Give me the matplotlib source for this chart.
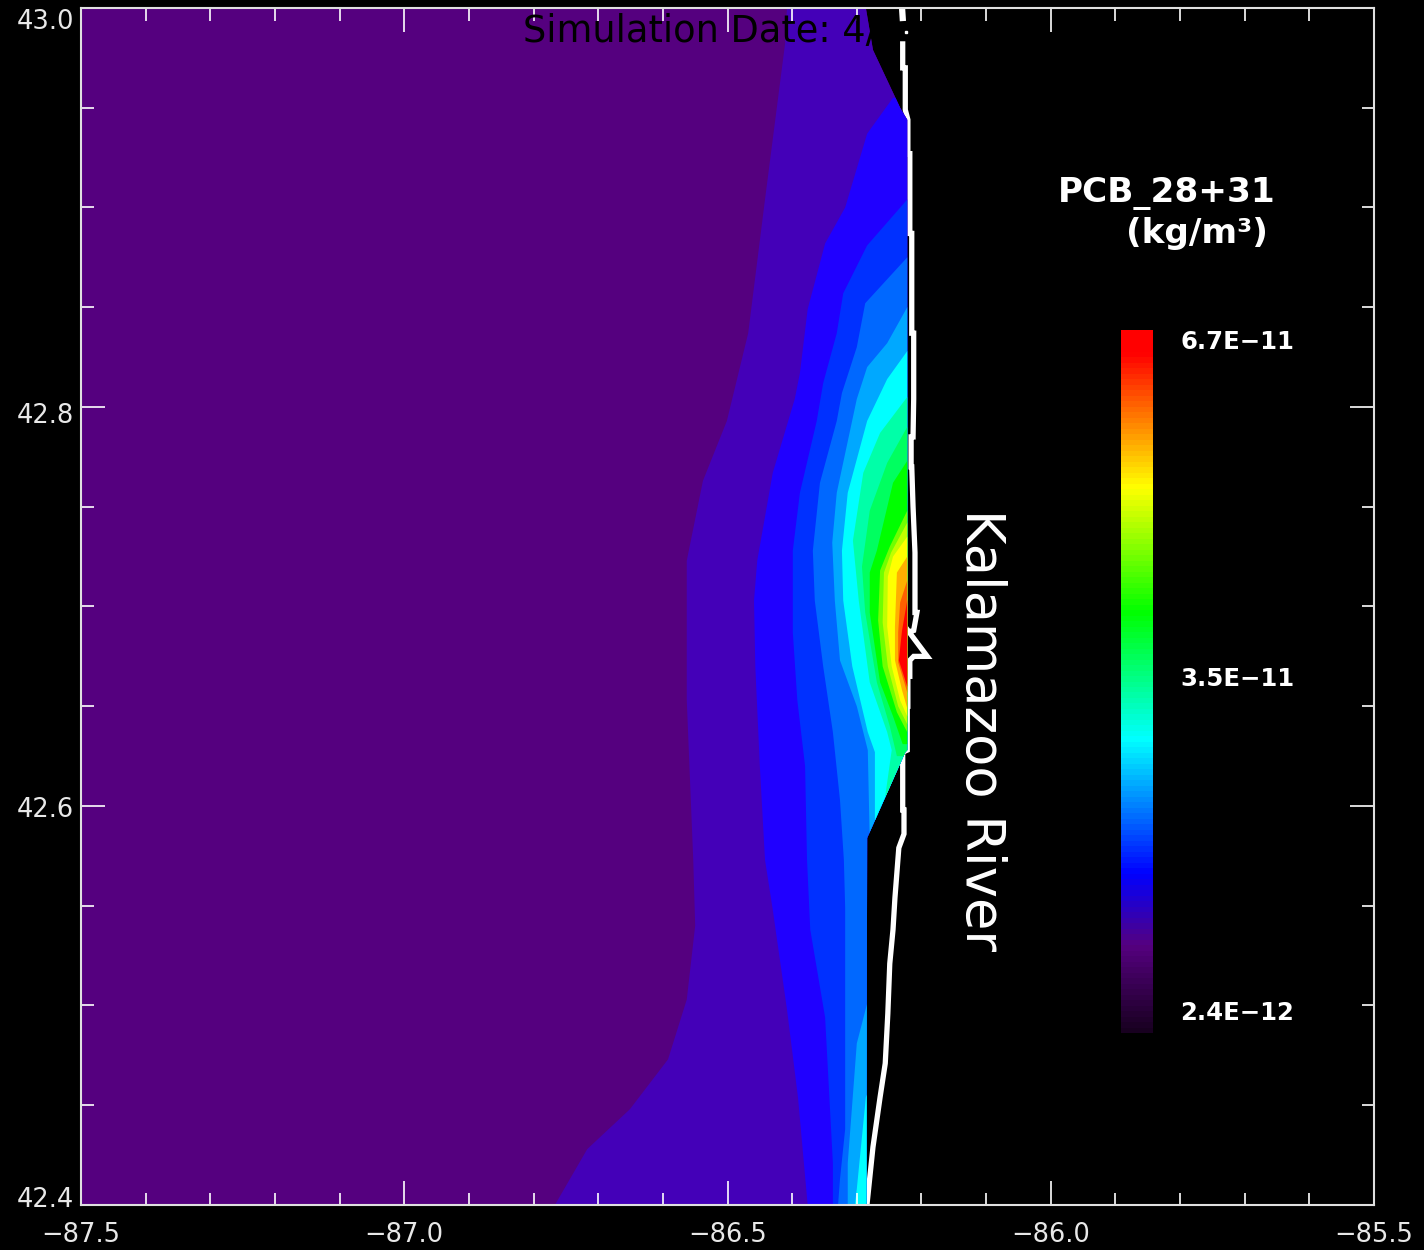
import matplotlib
matplotlib.use("Agg")
import matplotlib.pyplot as plt
from matplotlib.colors import LinearSegmentedColormap, Normalize
from matplotlib.cm import ScalarMappable
from matplotlib.patches import Polygon
from matplotlib.ticker import MultipleLocator
from matplotlib.transforms import ScaledTranslation

# model domain outline (lon, lat)
domain_lon = [-87.5, -87.5, -86.285, -86.284, -86.225, -86.222, -86.222, -86.233, -86.275, -86.286]
domain_lat = [43.0, 42.4, 42.4, 42.584, 42.627, 42.628, 42.944, 42.950, 42.979, 43.0]

# concentration band edges, west to east
indigo_lon = [-86.408, -86.411, -86.442, -86.468, -86.501, -86.538, -86.563, -86.563, -86.553, -86.550, -86.563, -86.592, -86.651, -86.717, -86.767]
indigo_lat = [43.0, 42.982, 42.904, 42.837, 42.793, 42.763, 42.723, 42.653, 42.573, 42.540, 42.503, 42.473, 42.448, 42.428, 42.40]

blue_lon = [-86.244, -86.284, -86.318, -86.349, -86.376, -86.388, -86.396, -86.430, -86.454, -86.459, -86.457, -86.450, -86.442, -86.430, -86.408, -86.391, -86.376]
blue_lat = [42.955, 42.937, 42.900, 42.882, 42.849, 42.817, 42.804, 42.767, 42.723, 42.703, 42.670, 42.620, 42.573, 42.548, 42.498, 42.454, 42.40]

azure1_lon = [-86.222, -86.284, -86.321, -86.331, -86.352, -86.362, -86.388, -86.399, -86.399, -86.392, -86.380, -86.377, -86.372, -86.349, -86.337, -86.337]
azure1_lat = [42.904, 42.881, 42.857, 42.837, 42.812, 42.793, 42.757, 42.728, 42.687, 42.653, 42.620, 42.573, 42.538, 42.494, 42.421, 42.40]

azure2_lon = [-86.222, -86.287, -86.300, -86.323, -86.331, -86.357, -86.368, -86.365, -86.352, -86.337, -86.326, -86.320, -86.318, -86.318, -86.326, -86.329]
azure2_lat = [42.875, 42.852, 42.830, 42.807, 42.793, 42.762, 42.728, 42.703, 42.670, 42.637, 42.603, 42.573, 42.549, 42.438, 42.413, 42.40]

sky_lon = [-86.222, -86.253, -86.284, -86.300, -86.331, -86.338, -86.334, -86.326, -86.300, -86.283, -86.280, -86.280, -86.300, -86.314, -86.314]
sky_lat = [42.850, 42.832, 42.820, 42.804, 42.757, 42.732, 42.703, 42.673, 42.650, 42.628, 42.583, 42.506, 42.481, 42.421, 42.40]

cyan_lon = [-86.222, -86.253, -86.284, -86.314, -86.323, -86.321, -86.307, -86.283, -86.272, -86.272, -86.256, -86.256, -86.286, -86.300, -86.303]
cyan_lat = [42.828, 42.814, 42.793, 42.757, 42.728, 42.703, 42.670, 42.637, 42.627, 42.593, 42.553, 42.478, 42.454, 42.408, 42.40]

spring_lon = [-86.222, -86.264, -86.290, -86.306, -86.297, -86.280, -86.253, -86.246, -86.256]
spring_lat = [42.805, 42.787, 42.767, 42.733, 42.703, 42.662, 42.637, 42.628, 42.605]

mint_lon = [-86.222, -86.253, -86.280, -86.292, -86.287, -86.269, -86.249, -86.238]
mint_lat = [42.790, 42.772, 42.748, 42.720, 42.697, 42.662, 42.640, 42.625]

green_lon = [-86.222, -86.244, -86.269, -86.280, -86.280, -86.264, -86.244, -86.229]
green_lat = [42.773, 42.762, 42.728, 42.717, 42.697, 42.662, 42.645, 42.631]

lime_lon = [-86.222, -86.249, -86.264, -86.267, -86.260, -86.238, -86.222]
lime_lat = [42.748, 42.730, 42.718, 42.693, 42.670, 42.647, 42.637]

chartreuse_lon = [-86.222, -86.247, -86.258, -86.260, -86.252, -86.236, -86.222]
chartreuse_lat = [42.742, 42.727, 42.717, 42.692, 42.670, 42.650, 42.641]

yellow_lon = [-86.222, -86.244, -86.252, -86.253, -86.246, -86.233, -86.222]
yellow_lat = [42.735, 42.725, 42.715, 42.690, 42.670, 42.653, 42.645]

orange_lon = [-86.222, -86.238, -86.241, -86.241, -86.230, -86.222]
orange_lat = [42.725, 42.717, 42.690, 42.673, 42.658, 42.649]

redorange_lon = [-86.222, -86.233, -86.236, -86.236, -86.222]
redorange_lat = [42.713, 42.702, 42.687, 42.672, 42.657]

red_lon = [-86.222, -86.230, -86.235, -86.222]
red_lat = [42.703, 42.688, 42.673, 42.660]

coast_lon = [-86.229, -86.229, -86.225, -86.225, -86.221, -86.221, -86.218, -86.218, -86.215, -86.215, -86.212, -86.212, -86.213, -86.216, -86.216, -86.215, -86.213, -86.210, -86.210, -86.207, -86.212, -86.222, -86.221, -86.191, -86.212, -86.218, -86.218, -86.221, -86.221, -86.222, -86.222, -86.229, -86.229, -86.227, -86.227, -86.235, -86.241, -86.244, -86.249, -86.252, -86.256, -86.264, -86.275, -86.284]
coast_lat = [42.982, 42.970, 42.970, 42.949, 42.944, 42.927, 42.927, 42.887, 42.887, 42.837, 42.837, 42.804, 42.785, 42.785, 42.770, 42.770, 42.750, 42.727, 42.697, 42.697, 42.688, 42.687, 42.688, 42.675, 42.675, 42.673, 42.665, 42.665, 42.650, 42.650, 42.628, 42.627, 42.598, 42.598, 42.586, 42.579, 42.554, 42.538, 42.521, 42.496, 42.471, 42.454, 42.429, 42.401]
coast_cap_lon = [-86.230, -86.229]
coast_cap_lat = [43.0, 42.995]
coast_dot_lon = [-86.224]
coast_dot_lat = [42.988]

band_edges = [
    (indigo_lon, indigo_lat, "#4400b8"),
    (blue_lon, blue_lat, "#2000ff"),
    (azure1_lon, azure1_lat, "#0030ff"),
    (azure2_lon, azure2_lat, "#0068ff"),
    (sky_lon, sky_lat, "#00a8ff"),
    (cyan_lon, cyan_lat, "#00ffff"),
    (spring_lon, spring_lat, "#00ffa8"),
    (mint_lon, mint_lat, "#00ff60"),
    (green_lon, green_lat, "#00ff00"),
    (lime_lon, lime_lat, "#70ff00"),
    (chartreuse_lon, chartreuse_lat, "#c0ff00"),
    (yellow_lon, yellow_lat, "#ffff00"),
    (orange_lon, orange_lat, "#ffb000"),
    (redorange_lon, redorange_lat, "#ff6000"),
    (red_lon, red_lat, "#ff0000"),
]

x_ticks = [-87.5, -87.0, -86.5, -86.0, -85.5]
x_labels = ["\u221287.5", "\u221287.0", "\u221286.5", "\u221286.0", "\u221285.5"]
y_ticks = [42.4, 42.6, 42.8, 43.0]
y_labels = ["42.4", "42.6", "42.8", "43.0"]
y_label_shift = [8, -1, -6, -11]  # pixels, the labels do not sit centred on their ticks

cbar_stops = [0.0, 0.122, 0.225, 0.417, 0.60, 0.778, 0.97, 1.0]
cbar_colors = ["#180020", "#55007f", "#0000ff", "#00ffff", "#00ff00", "#ffff00", "#ff0000", "#ff0000"]
cbar_labels = ["6.7E\u221211", "3.5E\u221211", "2.4E\u221212"]
cbar_label_pos = [0.983, 0.503, 0.029]

W, H = 1424, 1250
fig = plt.figure(figsize=(W / 100, H / 100), dpi=100, facecolor="black")
ax = fig.add_axes([81 / W, (H - 1205) / H, 1293 / W, 1197 / H], facecolor="black")
ax.set_axisbelow(False)

domain = Polygon(list(zip(domain_lon, domain_lat)), closed=True, fc="#55007f", ec="none", zorder=2)
ax.add_patch(domain)
for lon, lat, col in band_edges:
    # everything east of the edge gets this colour, domain outline cuts it off
    pts = list(zip(lon, lat)) + [(-85.4, lat[-1]), (-85.4, lat[0])]
    band = Polygon(pts, closed=True, fc=col, ec="none", zorder=2)
    ax.add_patch(band)
    band.set_clip_path(domain)

# coast goes under the field, the shelf edge stays sharp
ax.plot(coast_lon, coast_lat, color="white", lw=3.8, solid_joinstyle="miter", zorder=1)
ax.plot(coast_cap_lon, coast_cap_lat, color="white", lw=4.5, zorder=1)
ax.plot(coast_dot_lon, coast_dot_lat, "s", color="white", ms=2, zorder=1)
ax.text(-86.816, 42.988, "Simulation Date: 4/", color="black", fontsize=26.5, ha="left", va="center", zorder=3)

ax.set_xlim(-87.5, -85.5)
ax.set_ylim(42.4, 43.0)
ax.set_xticks(x_ticks)
ax.set_xticklabels(x_labels)
ax.set_yticks(y_ticks)
ax.set_yticklabels(y_labels)
ax.xaxis.set_minor_locator(MultipleLocator(0.1))
ax.yaxis.set_minor_locator(MultipleLocator(0.05))
ax.tick_params(which="major", direction="in", length=17, width=1.2, color="white",
               top=True, right=True, labelcolor="#e8e8e8", labelsize=18.5)
ax.tick_params(which="minor", direction="in", length=9, width=1.2, color="white", top=True, right=True)
ax.tick_params(axis="x", which="major", pad=12)
ax.tick_params(axis="y", which="major", pad=5)
for lab, dy in zip(ax.get_yticklabels(), y_label_shift):
    lab.set_transform(lab.get_transform() + ScaledTranslation(0, dy / 100, fig.dpi_scale_trans))
for s in ax.spines.values():
    s.set_color("#e0e0e0")
    s.set_linewidth(1.5)
    s.set_zorder(5)

ax.text(981 / W, 1 - 730 / H, "Kalamazoo River", transform=fig.transFigure, color="white", fontsize=38,
        rotation=-90, ha="center", va="center")
ax.text(1167 / W, 1 - 193 / H, "PCB_28+31", transform=fig.transFigure, color="white", fontsize=24.7,
        fontweight="bold", ha="center", va="center")
ax.text(1197 / W, 1 - 233 / H, "(kg/m\u00b3)", transform=fig.transFigure, color="white", fontsize=24.7,
        fontweight="bold", ha="center", va="center")

cax = fig.add_axes([1121 / W, (H - 1033) / H, 32 / W, 703 / H])
cmap = LinearSegmentedColormap.from_list("pcb", list(zip(cbar_stops, cbar_colors)), N=128)
cbar = fig.colorbar(ScalarMappable(norm=Normalize(0, 1), cmap=cmap), cax=cax)
cbar.set_ticks([])
cbar.outline.set_visible(False)
for txt, pos in zip(cbar_labels, cbar_label_pos):
    cax.text(1180 / 32 - 1121 / 32, pos, txt, transform=cax.transAxes, color="white", fontsize=17.6,
             fontweight="bold", ha="left", va="center")

fig.savefig("out.png", dpi=100, facecolor="black")
